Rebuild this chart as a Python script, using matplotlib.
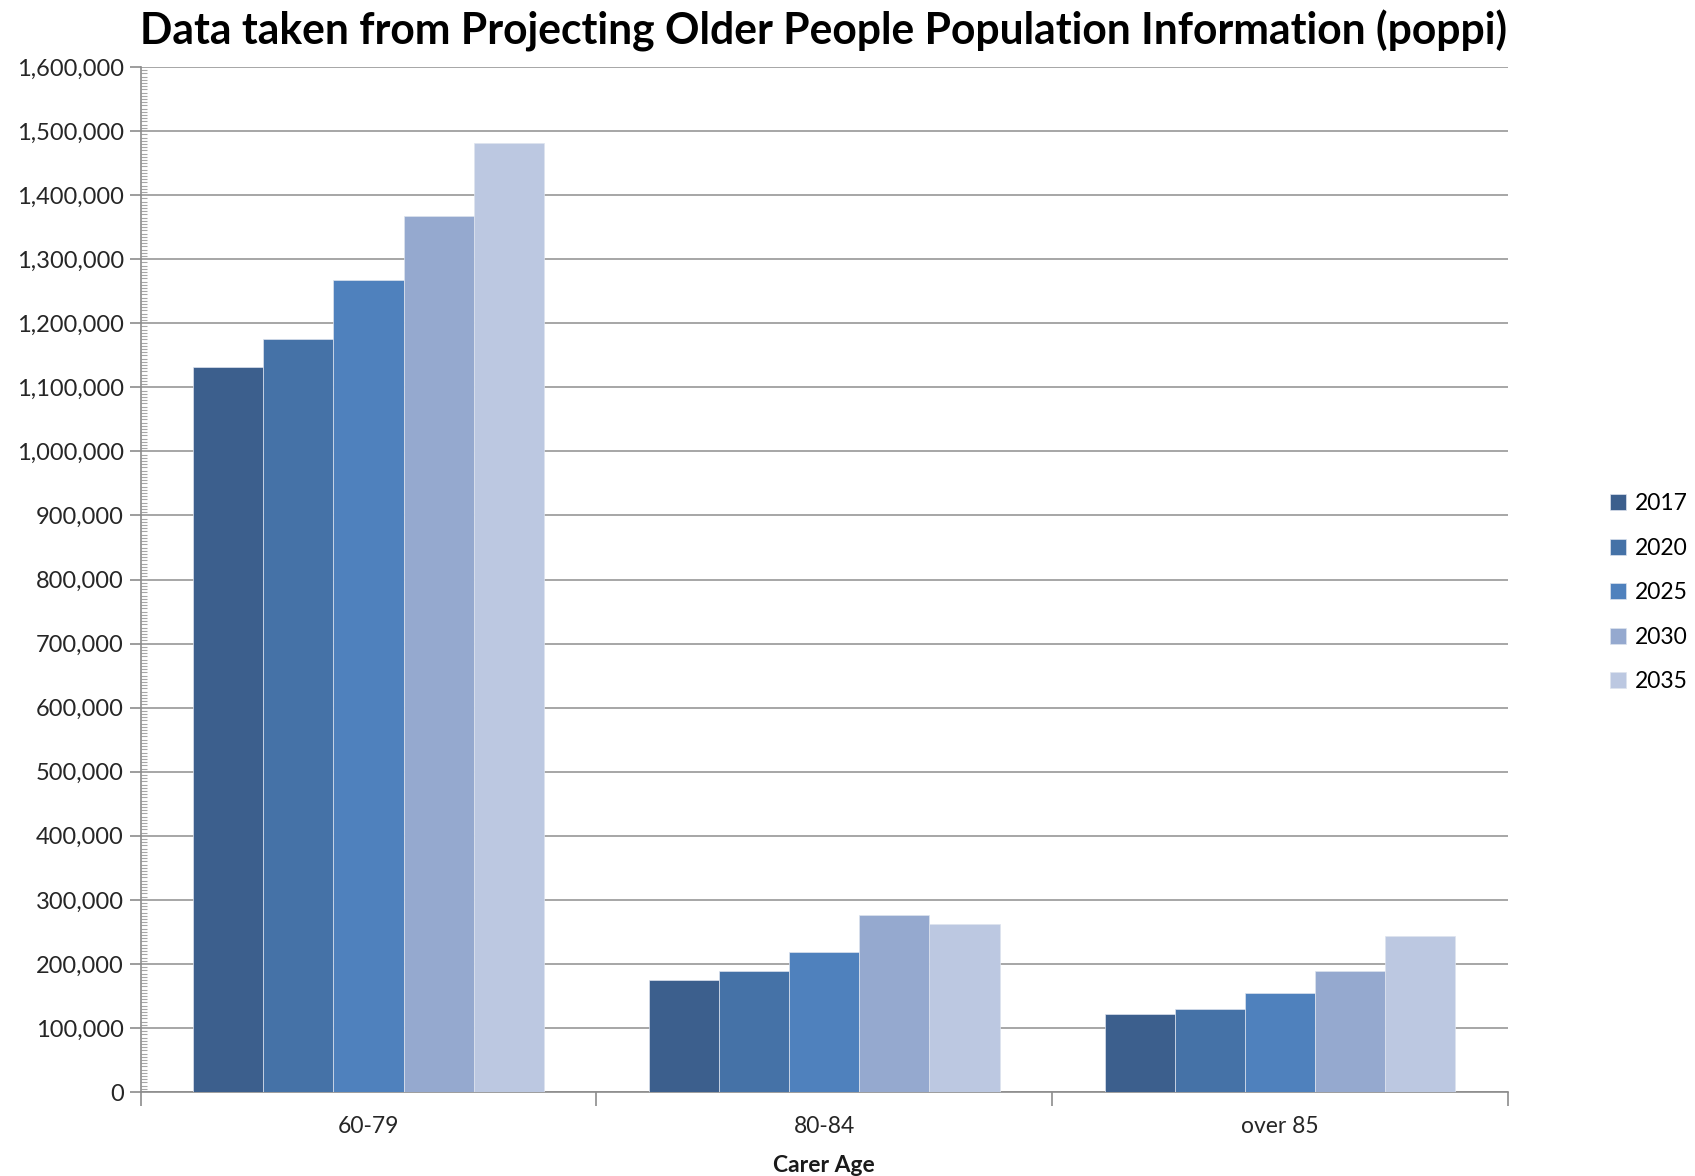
import matplotlib
matplotlib.use("Agg")
import matplotlib.pyplot as plt
import numpy as np
from matplotlib.ticker import MultipleLocator, FuncFormatter, FixedLocator

categories = ["60-79", "80-84", "over 85"]
years = ["2017", "2020", "2025", "2030", "2035"]
values = {
    "2017": [1131000, 175500, 121500],
    "2020": [1176000, 189000, 130000],
    "2025": [1267500, 218000, 155000],
    "2030": [1367000, 277000, 189000],
    "2035": [1482000, 262000, 243000],
}
colors = ["#3C5F8D", "#4572A7", "#4F81BD", "#95A9CF", "#BCC8E1"]

plt.rcParams['font.family'] = ['Lato', 'DejaVu Sans']

fig = plt.figure(figsize=(16.95, 11.76), dpi=100)
ax = fig.add_axes([0.0829, 0.0714, 0.8068, 0.8716])

n = len(years)
bw = 1 / 6.5
x = np.arange(len(categories))
for i, (yr, c) in enumerate(zip(years, colors)):
    offs = (i - (n - 1) / 2) * bw
    ax.bar(x + offs, values[yr], width=bw, color=c, edgecolor="#DDE3EE",
           linewidth=0.5, label=yr, zorder=3)

ax.set_xlim(-0.5, len(categories) - 0.5)
ax.set_ylim(0, 1600000)
ax.yaxis.set_major_locator(MultipleLocator(100000))
ax.yaxis.set_minor_locator(MultipleLocator(5000))
ax.yaxis.set_major_formatter(FuncFormatter(lambda v, p: f"{int(v):,}"))
ax.grid(axis="y", which="major", color="#A6A6A6", linewidth=1.4, zorder=0)

ax.set_xticks(x)
ax.set_xticklabels(categories)
ax.xaxis.set_minor_locator(FixedLocator([-0.5, 0.5, 1.5, 2.5]))
ax.tick_params(axis="x", which="major", length=0, labelsize=16.5, pad=17, colors="#262626")
ax.tick_params(axis="x", which="minor", length=10, width=1.2, color="#8C8C8C", direction="out")
ax.tick_params(axis="y", which="major", length=8, width=1.2, color="#8C8C8C",
               labelsize=17, labelcolor="#262626", direction="out", pad=4)
ax.tick_params(axis="y", which="minor", length=4, width=0.8, color="#A6A6A6", direction="in")

for s in ["top", "right"]:
    ax.spines[s].set_visible(False)
ax.spines["left"].set_color("#8C8C8C")
ax.spines["bottom"].set_color("#8C8C8C")
ax.spines["left"].set_linewidth(1.2)
ax.spines["bottom"].set_linewidth(1.2)

ax.set_xlabel("Carer Age", fontsize=16.5, fontweight="bold", labelpad=13, color="#1a1a1a")

fig.text(0.4856, 0.974, "Data taken from Projecting Older People Population Information (poppi)",
         ha="center", va="center", fontsize=30.7, fontweight="bold", color="black")

fig.legend(loc="center left", bbox_to_anchor=(0.9445, 0.496), frameon=False,
           fontsize=16.5, handlelength=0.7, handleheight=0.7, handletextpad=0.4,
           labelspacing=1.02, borderaxespad=0)

fig.savefig("out.png", dpi=100)
